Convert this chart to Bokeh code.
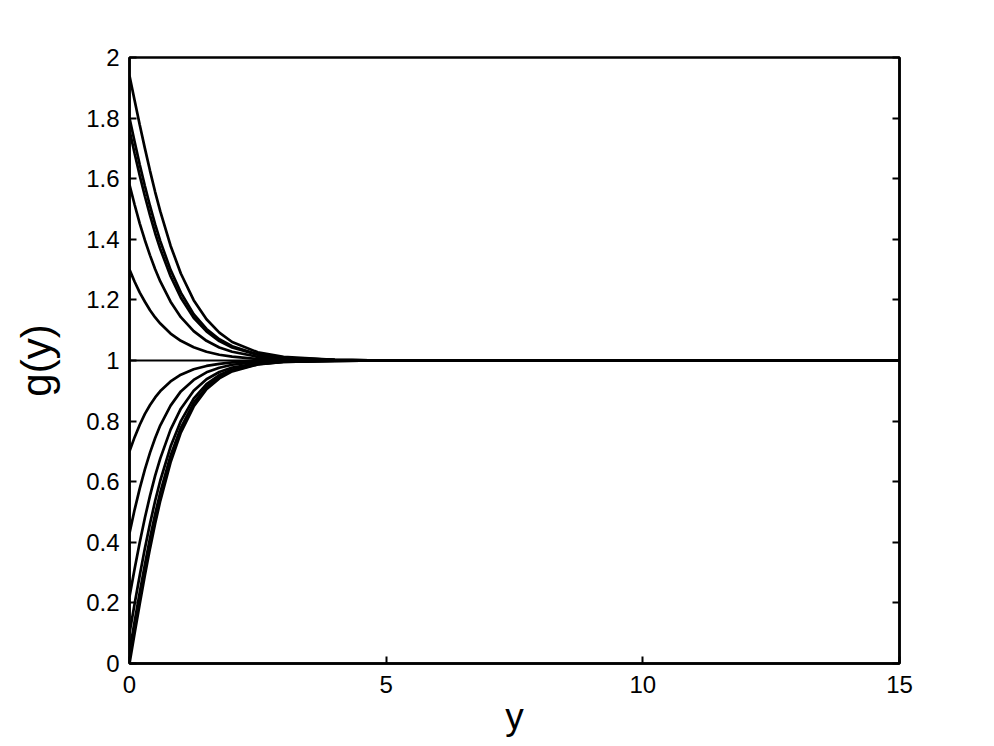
from bokeh.plotting import figure
from bokeh.models import Range1d, LinearAxis, FixedTicker
from bokeh.embed import file_html
from bokeh.resources import INLINE

# sample positions along y (horizontal axis)
y_pts = [0, 0.1, 0.2, 0.3, 0.4, 0.5, 0.6, 0.8, 1.0, 1.25, 1.5, 1.75, 2.0, 2.5, 3.0, 4.0, 5.0, 15]

# curves, named by their starting value g(0)
g_000 = [0.000, 0.100, 0.197, 0.291, 0.380, 0.462, 0.537, 0.664, 0.762, 0.848, 0.905, 0.941, 0.964, 0.987, 0.995, 0.999, 1.0, 1.0]
g_004 = [0.040, 0.139, 0.235, 0.327, 0.414, 0.493, 0.565, 0.686, 0.778, 0.860, 0.912, 0.946, 0.967, 0.988, 0.995, 0.999, 1.0, 1.0]
g_010 = [0.100, 0.197, 0.291, 0.380, 0.462, 0.537, 0.604, 0.716, 0.800, 0.874, 0.922, 0.952, 0.970, 0.989, 0.996, 0.999, 1.0, 1.0]
g_022 = [0.220, 0.313, 0.400, 0.481, 0.554, 0.620, 0.677, 0.772, 0.841, 0.900, 0.938, 0.962, 0.977, 0.991, 0.997, 1.0, 1.0, 1.0]
g_043 = [0.430, 0.508, 0.578, 0.641, 0.696, 0.744, 0.786, 0.851, 0.898, 0.936, 0.961, 0.976, 0.986, 0.995, 0.998, 1.0, 1.0, 1.0]
g_070 = [0.700, 0.747, 0.788, 0.824, 0.853, 0.878, 0.899, 0.931, 0.953, 0.971, 0.982, 0.989, 0.994, 0.998, 0.999, 1.0, 1.0, 1.0]
g_100 = [1.0] * 18
g_130 = [1.300, 1.260, 1.224, 1.194, 1.166, 1.142, 1.122, 1.089, 1.065, 1.044, 1.029, 1.019, 1.013, 1.005, 1.002, 1.0, 1.0, 1.0]
g_158 = [1.580, 1.514, 1.452, 1.397, 1.347, 1.301, 1.261, 1.194, 1.143, 1.097, 1.065, 1.043, 1.029, 1.012, 1.006, 1.001, 1.0, 1.0]
g_176 = [1.760, 1.683, 1.610, 1.542, 1.479, 1.420, 1.368, 1.278, 1.207, 1.141, 1.096, 1.064, 1.043, 1.019, 1.008, 1.002, 1.0, 1.0]
g_180 = [1.800, 1.722, 1.646, 1.576, 1.510, 1.449, 1.394, 1.299, 1.224, 1.153, 1.104, 1.070, 1.047, 1.020, 1.009, 1.002, 1.0, 1.0]
g_194 = [1.940, 1.858, 1.777, 1.700, 1.626, 1.556, 1.492, 1.379, 1.287, 1.199, 1.136, 1.092, 1.061, 1.027, 1.012, 1.002, 1.0, 1.0]

curves = [g_000, g_004, g_010, g_022, g_043, g_070, g_130, g_158, g_176, g_180, g_194]

x_ticks = [0, 5, 10, 15]
x_tick_labels = ["0", "5", "10", "15"]
y_ticks = [0, 0.2, 0.4, 0.6, 0.8, 1, 1.2, 1.4, 1.6, 1.8, 2]
y_tick_labels = ["0", "0.2", "0.4", "0.6", "0.8", "1", "1.2", "1.4", "1.6", "1.8", "2"]

FONT = "'Liberation Sans Narrow', 'Liberation Sans', Arial, sans-serif"

p = figure(frame_width=770, frame_height=606, output_backend="svg", toolbar_location=None,
           x_range=Range1d(0, 15), y_range=Range1d(0, 2),
           min_border_left=129, min_border_right=80, min_border_top=57, min_border_bottom=75)
p.background_fill_color = "white"
p.border_fill_color = "white"
p.outline_line_color = "black"
p.outline_line_width = 2.5
p.xgrid.visible = False
p.ygrid.visible = False

for c in curves:
    p.line(y_pts, c, line_color="black", line_width=2.7)
p.line(y_pts, g_100, line_color="black", line_width=2.0)

xa = p.xaxis[0]
xa.ticker = FixedTicker(ticks=x_ticks)
xa.major_label_overrides = {t: s for t, s in zip(x_ticks, x_tick_labels)}
xa.axis_label = "y"
ya = p.yaxis[0]
ya.ticker = FixedTicker(ticks=y_ticks)
ya.major_label_overrides = {t: s for t, s in zip(y_ticks, y_tick_labels)}
ya.axis_label = "g(y)"

ra = LinearAxis(ticker=FixedTicker(ticks=y_ticks), major_label_standoff=0,
                major_label_overrides={t: "" for t in y_ticks})
p.add_layout(ra, "right")

for ax in (xa, ya, ra):
    ax.axis_line_color = "black"
    ax.axis_line_width = 2.5
    ax.major_tick_line_color = "black"
    ax.major_tick_line_width = 2
    ax.major_tick_in = 7
    ax.major_tick_out = 0
    ax.minor_tick_line_color = None
    ax.major_label_text_font = FONT
    ax.major_label_text_color = "black"
    ax.axis_label_text_font = FONT
    ax.axis_label_text_font_style = "normal"
    ax.axis_label_text_color = "black"

for ax in (xa, ya):
    ax.major_label_text_font_size = "24px"
xa.axis_label_text_font_size = "37px"
ya.axis_label_text_font_size = "42px"
xa.major_label_standoff = 12
ya.major_label_standoff = 10
xa.axis_label_standoff = 0
ya.axis_label_standoff = 23

open("out.html", "w").write(file_html(p, INLINE))
